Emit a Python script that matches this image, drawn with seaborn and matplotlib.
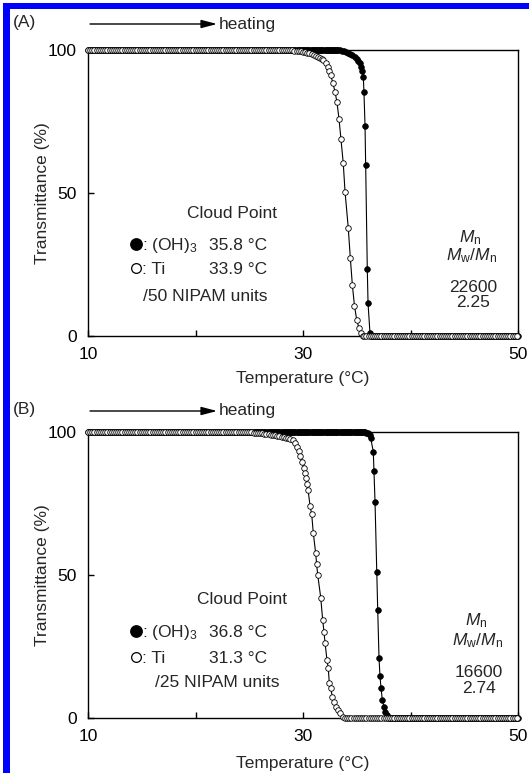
import numpy as np
import pandas as pd
import matplotlib
matplotlib.use("Agg")
import matplotlib.pyplot as plt
import seaborn as sns
from matplotlib.patches import Rectangle, FancyArrowPatch
from matplotlib.lines import Line2D

# ---------------------------------------------------------------- data
# flat runs: (first T, last T, sampling step, transmittance)
# Panel A  (/50 NIPAM units)
a_oh_high_run = (10.0, 33.4, 0.1, 100.0)
a_oh_T = [33.6, 33.8, 34.0, 34.2, 34.4, 34.6, 34.8, 35.0, 35.15, 35.3, 35.42,
          35.52, 35.61, 35.67, 35.77, 35.83, 35.98, 36.05, 36.23]
a_oh_Tr = [99.8, 99.6, 99.3, 99.0, 98.6, 98.1, 97.5, 96.8, 96.2, 95.4, 94.2,
           92.6, 90.7, 85.4, 73.4, 59.8, 23.4, 11.5, 1.0]
a_oh_low_run = (36.3, 50.0, 0.1, 0.0)

a_ti_high_run = (10.0, 29.0, 0.2, 100.0)
a_ti_T = [29.2, 29.4, 29.6, 29.8, 30.0, 30.2, 30.4, 30.6, 30.8, 31.0, 31.2,
          31.4, 31.6, 31.75, 31.89, 32.11, 32.30, 32.45, 32.58, 32.76, 32.98,
          33.16, 33.35, 33.53, 33.74, 33.91, 34.21, 34.40, 34.59, 34.79, 35.00,
          35.21, 35.42, 35.55]
a_ti_Tr = [99.8, 99.7, 99.6, 99.5, 99.3, 99.2, 99.0, 98.8, 98.6, 98.3, 98.0,
           97.7, 97.3, 96.9, 96.5, 95.3, 94.2, 92.8, 91.3, 88.6, 85.4,
           81.7, 75.9, 68.9, 60.6, 50.5, 37.8, 27.4, 17.9, 10.5, 5.6,
           2.8, 1.0, 0.1]
a_ti_low_run = (35.7, 50.0, 0.2, 0.0)

# Panel B  (/25 NIPAM units)
b_oh_high_run = (10.0, 35.8, 0.1, 100.0)
b_oh_T = [35.9, 36.0, 36.1, 36.2, 36.30, 36.54, 36.60, 36.70, 36.86, 36.95,
          37.07, 37.16, 37.26, 37.38, 37.53, 37.66, 37.79, 37.93]
b_oh_Tr = [99.8, 99.6, 99.3, 98.8, 97.8, 93.1, 86.5, 75.6, 51.1, 37.9,
           21.1, 14.7, 10.4, 6.3, 3.9, 2.2, 1.05, 0.2]
b_oh_low_run = (38.0, 50.0, 0.1, 0.0)

b_ti_high_run = (10.0, 24.8, 0.2, 100.0)
b_ti_T = [25.0, 25.2, 25.4, 25.6, 25.8, 26.0, 26.2, 26.4, 26.6, 26.8, 27.0,
          27.2, 27.4, 27.6, 27.8, 28.0, 28.2, 28.4, 28.6, 28.8, 29.04, 29.27,
          29.45, 29.60, 29.76, 29.92, 30.07, 30.16, 30.29, 30.38, 30.47, 30.66,
          30.81, 30.96, 31.18, 31.27, 31.37, 31.65, 31.83, 31.95, 32.05, 32.23,
          32.35, 32.45, 32.58, 32.73, 32.88, 33.07, 33.26, 33.44, 33.69]
b_ti_Tr = [99.9, 99.9, 99.8, 99.8, 99.7, 99.6, 99.5, 99.4, 99.3, 99.2, 99.1,
           99.0, 98.9, 98.7, 98.6, 98.4, 98.2, 98.0, 97.8, 97.5, 97.2, 96.0,
           94.9, 93.4, 91.6, 89.6, 87.3, 85.6, 83.8, 81.8, 79.7, 74.1,
           71.2, 64.6, 57.6, 53.7, 50.0, 42.1, 34.3, 30.2, 26.3, 20.3,
           17.4, 12.1, 10.4, 7.4, 5.7, 4.0, 2.8, 1.6, 0.5]
b_ti_low_run = (33.9, 50.0, 0.2, 0.0)

# text
x_ticks = [10, 20, 30, 40, 50]
x_ticklabels = ["10", "", "30", "", "50"]
y_ticks = [0, 50, 100]
y_ticklabels = ["0", "50", "100"]
panel_labels = ["(A)", "(B)"]
cloud_oh = ["35.8 °C", "36.8 °C"]
cloud_ti = ["33.9 °C", "31.3 °C"]
units = ["/50 NIPAM units", "/25 NIPAM units"]
mn_vals = ["22600", "16600"]
pdi_vals = ["2.25", "2.74"]


def build(high, T, Tr, low):
    hT = np.round(np.arange(high[0], high[1] + 1e-9, high[2]), 2)
    lT = np.round(np.arange(low[0], low[1] + 1e-9, low[2]), 2)
    t = np.concatenate([hT, np.asarray(T), lT])
    y = np.concatenate([np.full(hT.size, high[3]), np.asarray(Tr),
                        np.full(lT.size, low[3])])
    return pd.DataFrame({"T": t, "Tr": y})


panels = [
    (build(a_oh_high_run, a_oh_T, a_oh_Tr, a_oh_low_run),
     build(a_ti_high_run, a_ti_T, a_ti_Tr, a_ti_low_run)),
    (build(b_oh_high_run, b_oh_T, b_oh_Tr, b_oh_low_run),
     build(b_ti_high_run, b_ti_T, b_ti_Tr, b_ti_low_run)),
]

# ---------------------------------------------------------------- style
sns.set_style("ticks")
plt.rcParams["font.family"] = ["Liberation Sans", "DejaVu Sans"]
plt.rcParams["mathtext.fontset"] = "custom"
plt.rcParams["mathtext.rm"] = "Liberation Sans"
plt.rcParams["mathtext.it"] = "Liberation Sans:italic"
plt.rcParams["mathtext.bf"] = "Liberation Sans:bold"
FS = 12.5

W, H = 529, 773
fig = plt.figure(figsize=(W / 100, H / 100), dpi=100)
fig.patch.set_facecolor("white")


def fx(x):
    return x / W


def fy(y):
    return 1 - y / H


# blue frame of the source page
fig.add_artist(Rectangle((fx(3), 0), fx(7), fy(3), transform=fig.transFigure,
                         facecolor="#0000ff", edgecolor="none"))
fig.add_artist(Rectangle((fx(3), fy(9)), 1 - fx(3), 6 / H,
                         transform=fig.transFigure, facecolor="#0000ff",
                         edgecolor="none"))

ax_top = [50, 432]      # pixel row of 100 %
ax_bot = [336, 718]     # pixel row of 0 %
xlabel_y = [-0.122, -0.134]
cloud_y = [212, 598]
oh_y = [244, 631]
ti_y = [268, 657]
unit_y = [295, 681]
unit_x = [143, 155]
right_x = [472, 478]
mn_base = [[242, 260, 292, 307], [625, 645, 677, 693]]
label_y = [23, 410]

for i in range(2):
    top, bot = ax_top[i], ax_bot[i]
    ax = fig.add_axes([fx(88), fy(bot), (518 - 88) / W, (bot - top) / H])
    d_oh, d_ti = panels[i]
    sns.lineplot(data=d_oh, x="T", y="Tr", ax=ax, sort=False, estimator=None,
                 color="black", lw=0.8, marker="o", markersize=4.1,
                 markerfacecolor="black", markeredgecolor="black",
                 markeredgewidth=0.5, clip_on=False, zorder=3, legend=False)
    sns.lineplot(data=d_ti, x="T", y="Tr", ax=ax, sort=False, estimator=None,
                 color="black", lw=0.8, marker="o", markersize=4.0,
                 markerfacecolor="white", markeredgecolor="black",
                 markeredgewidth=0.6, clip_on=False, zorder=4, legend=False)
    ax.set_xlim(10, 50)
    ax.set_ylim(0, 100)
    ax.set_xticks(x_ticks)
    ax.set_xticklabels(x_ticklabels)
    ax.set_yticks(y_ticks)
    ax.set_yticklabels(y_ticklabels)
    ax.tick_params(direction="in", length=4.5, width=1.0, pad=8,
                   labelsize=FS, colors="black")
    for s in ax.spines.values():
        s.set_linewidth(1.0)
        s.set_color("black")
    ax.set_xlabel("Temperature (°C)", fontsize=FS)
    ax.set_ylabel("Transmittance (%)", fontsize=FS)
    ax.xaxis.set_label_coords(0.5, xlabel_y[i])
    ax.yaxis.set_label_coords(-0.088, 0.5)

    # panel label, heating arrow
    fig.text(fx(13), fy(label_y[i]), panel_labels[i], fontsize=FS,
             ha="left", va="center")
    fig.add_artist(FancyArrowPatch((fx(90), fy(label_y[i] + 1)),
                                   (fx(217), fy(label_y[i] + 1)),
                                   transform=fig.transFigure,
                                   arrowstyle="-|>,head_length=0.95,head_width=0.25",
                                   mutation_scale=10, lw=1.0, color="black",
                                   shrinkA=0, shrinkB=0))
    fig.text(fx(219), fy(label_y[i] + 1), "heating", fontsize=FS,
             ha="left", va="center")

    # cloud point block
    fig.text(fx(232 + 10 * i), fy(cloud_y[i] + 6), "Cloud Point", fontsize=FS,
             ha="center", va="baseline")
    fig.add_artist(Line2D([fx(136)], [fy(oh_y[i])], transform=fig.transFigure,
                          marker="o", markersize=8.2, markerfacecolor="black",
                          markeredgecolor="black", linestyle="none"))
    fig.add_artist(Line2D([fx(135.5)], [fy(ti_y[i])], transform=fig.transFigure,
                          marker="o", markersize=7.0, markerfacecolor="white",
                          markeredgecolor="black", markeredgewidth=0.9,
                          linestyle="none"))
    fig.text(fx(142), fy(oh_y[i] + 6), ": (OH)$_3$", fontsize=FS,
             ha="left", va="baseline")
    fig.text(fx(209), fy(oh_y[i] + 6), cloud_oh[i], fontsize=FS,
             ha="left", va="baseline")
    fig.text(fx(142), fy(ti_y[i] + 6), ": Ti", fontsize=FS,
             ha="left", va="baseline")
    fig.text(fx(209), fy(ti_y[i] + 6), cloud_ti[i], fontsize=FS,
             ha="left", va="baseline")
    fig.text(fx(unit_x[i]), fy(unit_y[i] + 6), units[i], fontsize=FS,
             ha="left", va="baseline")

    # molecular weight block
    rx = fx(right_x[i])
    b = mn_base[i]
    fig.text(rx - 0.004, fy(b[0]), r"$M_\mathrm{n}$", fontsize=FS,
             ha="center", va="baseline")
    fig.text(rx, fy(b[1]), r"$M_\mathrm{w}/M_\mathrm{n}$", fontsize=FS,
             ha="center", va="baseline")
    fig.text(rx + 0.002, fy(b[2]), mn_vals[i], fontsize=FS,
             ha="center", va="baseline")
    fig.text(rx + 0.002, fy(b[3]), pdi_vals[i], fontsize=FS,
             ha="center", va="baseline")

fig.savefig("out.png", dpi=100)
